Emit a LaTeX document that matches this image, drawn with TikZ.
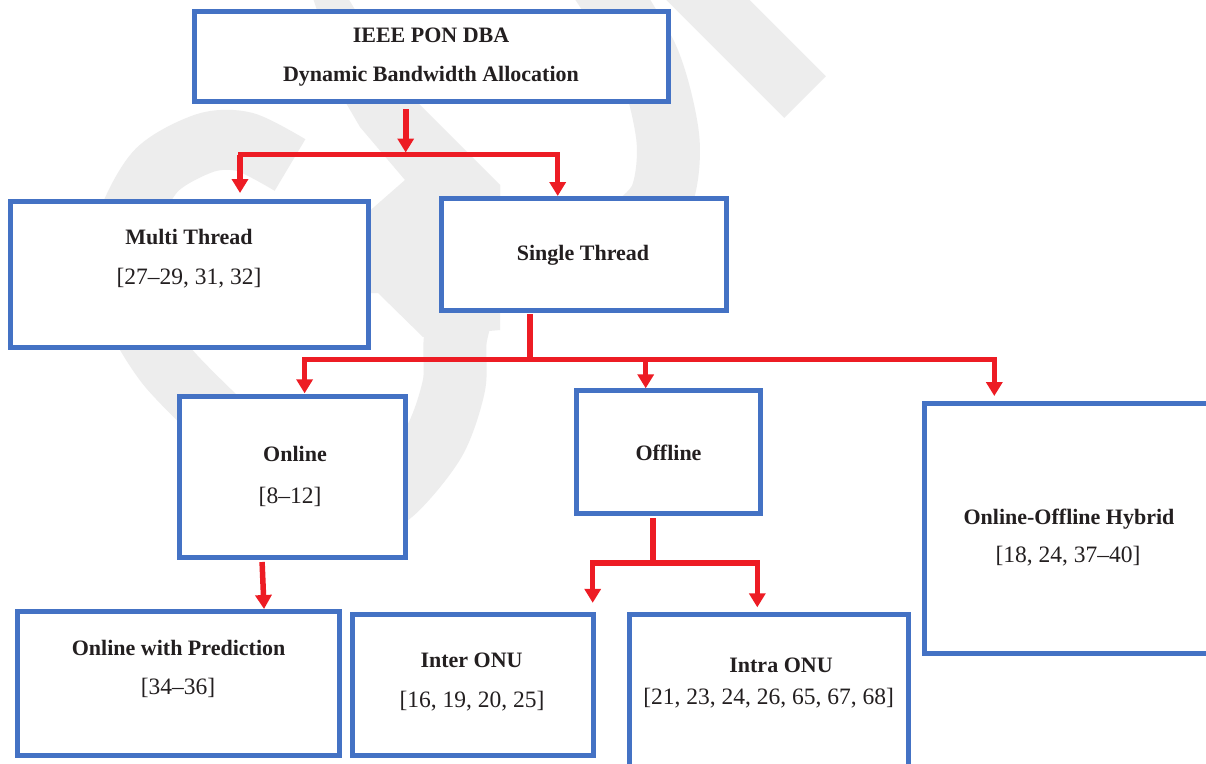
\documentclass[tikz,border=0pt]{standalone}
\usepackage{fontspec}
\setmainfont{Liberation Serif}
\usetikzlibrary{arrows.meta}
\definecolor{boxblue}{RGB}{68,114,196}
\definecolor{arrred}{RGB}{237,28,36}
\definecolor{wmgray}{RGB}{237,237,237}
\definecolor{txt}{RGB}{35,31,32}
\tikzset{
  box/.style={draw=boxblue, line width=5pt, fill=white, inner sep=0pt},
  lbl/.style={anchor=base, inner sep=0pt, text=txt, font=\fontsize{22}{26}\selectfont\bfseries},
  refs/.style={anchor=base, inner sep=0pt, text=txt, font=\fontsize{23.5}{28}\selectfont},
  redline/.style={draw=arrred, line width=5.5pt},
  redbar/.style={draw=arrred, line width=5.5pt, line cap=rect},
  rarrow/.style={draw=arrred, line width=5.5pt, -{Triangle[width=16pt,length=14pt]}},
  wm/.style={draw=wmgray}
}
\begin{document}
\begin{tikzpicture}[x=1pt,y=-1pt]
\useasboundingbox (0,0) rectangle (1206,763);
\fill[white] (0,0) rectangle (1206,763);
% watermark
\begin{scope}
\clip (0,0) rectangle (1206,763);
\draw[wm, line width=59pt] (600,-108) -- (805,97);
\fill[wmgray] (313,-2) -- (348,-2) -- (385,60) -- (420,105) -- (500,185) -- (500,200) -- (405,180) -- (360,127) -- (346,103) -- (330,50) -- cycle;
\fill[wmgray] (365,215) -- (405,180) -- (500,185) -- (500,330) -- (423,337) -- (378,293) -- (365,293) -- cycle;
\draw[wm, line width=63pt] plot[smooth] coordinates {(600,-20) (648,60) (668,140) (660,200) (620,235) (540,258) (475,290) (456,335) (454,385) (435,440) (395,490) (345,525)};
\draw[wm, line width=60pt] plot[smooth] coordinates {(290,165) (245,142) (205,143) (155,172) (124,235) (132,305) (166,365) (225,425)};
\end{scope}
% boxes
\node[box, minimum width=474pt, minimum height=90.5pt] (ieee) at (431,56.25) {};
\node[box, minimum width=358pt, minimum height=146pt] (multi) at (189,274) {};
\node[box, minimum width=284.5pt, minimum height=111.5pt] (single) at (583.75,254.25) {};
\node[box, minimum width=225.6pt, minimum height=160.7pt] (online) at (292.4,477.15) {};
\node[box, minimum width=183.4pt, minimum height=122.4pt] (offline) at (668.5,452) {};
\node[box, minimum width=289.7pt, minimum height=250pt] (hybrid) at (1069.15,528.5) {};
\node[box, minimum width=321.7pt, minimum height=144.3pt] (owp) at (178.65,683.65) {};
\node[box, minimum width=240.5pt, minimum height=141.5pt] (inter) at (472.95,685.05) {};
\node[box, minimum width=279.2pt, minimum height=160.2pt] (intra) at (769.1,694.9) {};
% texts
\node[lbl] (tieee1) at (431,42.7) {IEEE PON DBA};
\node[lbl] (tieee2) at (431,81) {Dynamic Bandwidth Allocation};
\node[lbl] (tmulti) at (189,244) {Multi Thread};
\node[refs] (rmulti) at (189,284) {[27--29, 31, 32]};
\node[lbl] (tsingle) at (583,260) {Single Thread};
\node[lbl] (tonline) at (295,461.7) {Online};
\node[refs] (ronline) at (290,503) {[8--12]};
\node[lbl] (toffline) at (668.5,460) {Offline};
\node[lbl] (thybrid) at (1069,524) {Online-Offline Hybrid};
\node[refs] (rhybrid) at (1068,562.7) {[18, 24, 37--40]};
\node[lbl] (towp) at (178.6,655) {Online with Prediction};
\node[refs] (rowp) at (178,694) {[34--36]};
\node[lbl] (tinter) at (471.6,667) {Inter ONU};
\node[refs] (rinter) at (472,707.7) {[16, 19, 20, 25]};
\node[lbl] (tintra) at (781,672.7) {Intra ONU};
\node[refs] (rintra) at (768.7,704) {[21, 23, 24, 26, 65, 67, 68]};
% connectors
\coordinate (j1) at (405.7,154.5);
\coordinate (b1l) at (240,154.5);
\coordinate (b1r) at (557.7,154.5);
\draw[rarrow, line width=6pt, shorten <=5pt, shorten >=2pt] (ieee.south -| j1) -- (j1);
\draw[redbar, line width=5pt] (b1l) -- (b1r);
\draw[rarrow, shorten >=5.5pt] (b1l) -- (b1l |- multi.north);
\draw[rarrow] (b1r) -- (b1r |- single.north);
\coordinate (j2) at (530,359);
\coordinate (b2l) at (304.6,359);
\coordinate (b2m) at (645.7,359);
\coordinate (b2r) at (994.3,359);
\draw[redline, line width=6pt, shorten <=1.5pt] (single.south -| j2) -- (j2);
\draw[redbar, line width=5pt] (b2l) -- (b2r);
\draw[rarrow, shorten >=1pt] (b2l) -- (b2l |- online.north);
\draw[rarrow] (b2m) -- (b2m |- offline.north);
\draw[rarrow, shorten >=5pt] (b2r) -- (b2r |- hybrid.north);
\coordinate (j3) at (653,563);
\coordinate (b3l) at (592.7,563);
\coordinate (b3r) at (757.3,563);
\draw[redline, line width=6pt, shorten <=2.5pt] (offline.south -| j3) -- (j3);
\draw[redbar, line width=5.7pt] (b3l) -- (b3r);
\draw[rarrow, shorten >=9pt] (b3l) -- (b3l |- inter.north);
\draw[rarrow, shorten >=5pt] (b3r) -- (b3r |- intra.north);
\draw[rarrow, shorten <=2pt] ([xshift=-30.4pt]online.south) -- ([xshift=85.4pt]owp.north);
\end{tikzpicture}
\end{document}
